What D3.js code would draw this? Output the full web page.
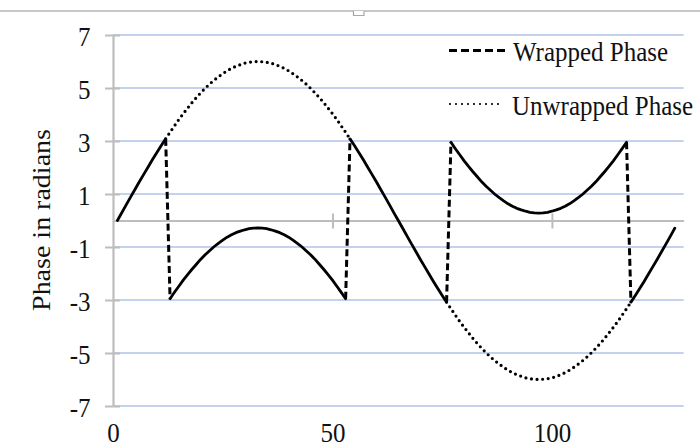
<!DOCTYPE html>
<html>
<head>
<meta charset="utf-8">
<script src="https://cdn.jsdelivr.net/npm/d3@7"></script>
<style>
  html, body { margin: 0; padding: 0; background: #fff; }
  svg { display: block; }
  text { font-family: "Liberation Serif", "Times New Roman", serif; fill: #111; }
</style>
</head>
<body>
<svg id="chart" width="700" height="448"></svg>
<script>
// Phase samples, one per index 1..128
const unwrappedPhase = [
  0.00, 0.29, 0.59, 0.88, 1.17, 1.46, 1.74, 2.02, 2.30, 2.57, 2.83, 3.08, 3.33, 3.57, 3.81, 4.03,
  4.24, 4.45, 4.64, 4.82, 4.99, 5.15, 5.29, 5.42, 5.54, 5.65, 5.74, 5.82, 5.88, 5.94, 5.97, 5.99,
  6.00, 5.99, 5.97, 5.94, 5.88, 5.82, 5.74, 5.65, 5.54, 5.42, 5.29, 5.15, 4.99, 4.82, 4.64, 4.45,
  4.24, 4.03, 3.81, 3.57, 3.33, 3.08, 2.83, 2.57, 2.30, 2.02, 1.74, 1.46, 1.17, 0.88, 0.59, 0.29,
  0.00, -0.29, -0.59, -0.88, -1.17, -1.46, -1.74, -2.02, -2.30, -2.57, -2.83, -3.08, -3.33, -3.57, -3.81, -4.03,
  -4.24, -4.45, -4.64, -4.82, -4.99, -5.15, -5.29, -5.42, -5.54, -5.65, -5.74, -5.82, -5.88, -5.94, -5.97, -5.99,
  -6.00, -5.99, -5.97, -5.94, -5.88, -5.82, -5.74, -5.65, -5.54, -5.42, -5.29, -5.15, -4.99, -4.82, -4.64, -4.45,
  -4.24, -4.03, -3.81, -3.57, -3.33, -3.08, -2.83, -2.57, -2.30, -2.02, -1.74, -1.46, -1.17, -0.88, -0.59, -0.29
];

const wrappedPhase = [
  0.00, 0.29, 0.59, 0.88, 1.17, 1.46, 1.74, 2.02, 2.30, 2.57, 2.83, 3.08, -2.95, -2.71, -2.48, -2.25,
  -2.04, -1.84, -1.65, -1.46, -1.29, -1.14, -0.99, -0.86, -0.74, -0.63, -0.54, -0.46, -0.40, -0.35, -0.31, -0.29,
  -0.28, -0.29, -0.31, -0.35, -0.40, -0.46, -0.54, -0.63, -0.74, -0.86, -0.99, -1.14, -1.29, -1.46, -1.65, -1.84,
  -2.04, -2.25, -2.48, -2.71, -2.95, 3.08, 2.83, 2.57, 2.30, 2.02, 1.74, 1.46, 1.17, 0.88, 0.59, 0.29,
  0.00, -0.29, -0.59, -0.88, -1.17, -1.46, -1.74, -2.02, -2.30, -2.57, -2.83, -3.08, 2.95, 2.71, 2.48, 2.25,
  2.04, 1.84, 1.65, 1.46, 1.29, 1.14, 0.99, 0.86, 0.74, 0.63, 0.54, 0.46, 0.40, 0.35, 0.31, 0.29,
  0.28, 0.29, 0.31, 0.35, 0.40, 0.46, 0.54, 0.63, 0.74, 0.86, 0.99, 1.14, 1.29, 1.46, 1.65, 1.84,
  2.04, 2.25, 2.48, 2.71, 2.95, -3.08, -2.83, -2.57, -2.30, -2.02, -1.74, -1.46, -1.17, -0.88, -0.59, -0.29
];

const yTicks = [-7, -5, -3, -1, 1, 3, 5, 7];
const xTickLabels = [0, 50, 100];
const xTickMarks = [50, 100];
const legendLabels = ["Wrapped Phase", "Unwrapped Phase"];
const yTitle = "Phase in radians";

// ---- layout ----
const svg = d3.select("#chart");
const stretch = 1.12;          // tall type
const fontSize = 25;
const gridColor = "#c3d2ee";
const axisColor = "#bdbdbd";

const x = d3.scaleLinear().domain([0, 130]).range([113, 683.6]);
const y = d3.scaleLinear().domain([-7, 7]).range([406, 35]);

// top frame rule
svg.append("line").attr("x1", 0).attr("x2", 700).attr("y1", 11).attr("y2", 11)
  .attr("stroke", "#b5b5b5").attr("stroke-width", 1.3);
svg.append("path").attr("d", "M353.5,11V15.5H364V11")
  .attr("fill", "#fff").attr("stroke", "#a8a8a8").attr("stroke-width", 1.2);

// horizontal gridlines
svg.append("g").selectAll("line").data(yTicks).join("line")
  .attr("x1", x(0)).attr("x2", x(130))
  .attr("y1", d => y(d)).attr("y2", d => y(d))
  .attr("stroke", gridColor).attr("stroke-width", 1.8);

// y axis
const yAxisG = svg.append("g").attr("transform", `translate(${x(0)},0)`)
  .call(d3.axisLeft(y).tickValues(yTicks).tickSize(8).tickSizeOuter(0).tickFormat(d3.format("d")));
yAxisG.select(".domain").attr("stroke", axisColor).attr("stroke-width", 2.2);
yAxisG.selectAll(".tick line").attr("x1", -8).attr("x2", 7)
  .attr("stroke", axisColor).attr("stroke-width", 2);
yAxisG.selectAll(".tick text")
  .attr("x", -22.5).attr("y", 9.5).attr("dy", null)
  .attr("transform", `scale(1,${stretch})`)
  .attr("font-size", fontSize).attr("font-family", null).attr("fill", "#111")
  .text(d => d < 0 ? "-" + Math.abs(d) : d);

// x axis through zero
const xAxisG = svg.append("g").attr("transform", `translate(0,${y(0)})`)
  .call(d3.axisBottom(x).tickValues(xTickMarks).tickSize(8).tickSizeOuter(0).tickFormat(""));
xAxisG.select(".domain").attr("stroke", axisColor).attr("stroke-width", 2.2);
xAxisG.selectAll(".tick line").attr("y1", -7).attr("y2", 8)
  .attr("stroke", axisColor).attr("stroke-width", 2);

// x tick labels along the bottom
const xLabG = svg.append("g").attr("transform", "translate(0,420)")
  .call(d3.axisBottom(x).tickValues(xTickLabels).tickSize(0).tickFormat(d3.format("d")));
xLabG.select(".domain").remove();
xLabG.selectAll(".tick text")
  .attr("y", 19.2).attr("dy", null)
  .attr("transform", `scale(1,${stretch})`)
  .attr("font-size", fontSize).attr("font-family", null).attr("fill", "#111");

// y axis title
svg.append("text")
  .attr("transform", `translate(50,220) scale(1,${stretch}) rotate(-90)`)
  .attr("text-anchor", "middle").attr("font-size", fontSize)
  .text(yTitle);

// ---- series ----
const pts = (arr) => arr.map((v, i) => ({ i: i + 1, v }));
const uPts = pts(unwrappedPhase);
const wPts = pts(wrappedPhase);

const line = d3.line().x(d => x(d.i)).y(d => y(d.v));

// unwrapped phase, shown where it departs from the wrapped trace
const differs = i => i >= 0 && i < wrappedPhase.length && wrappedPhase[i] !== unwrappedPhase[i];
svg.append("path")
  .attr("d", line.defined((d, i) => differs(i) || differs(i - 1) || differs(i + 1))(uPts))
  .attr("fill", "none").attr("stroke", "#000")
  .attr("stroke-width", 3.2).attr("stroke-linecap", "round")
  .attr("stroke-dasharray", "0 5.6");
line.defined(() => true);

// wrapped phase: continuous runs solid, jumps dashed
const runs = [];
const jumps = [];
let run = [wPts[0]];
for (let k = 1; k < wPts.length; k++) {
  if (Math.abs(wPts[k].v - wPts[k - 1].v) > 3) {
    runs.push(run);
    jumps.push([wPts[k - 1], wPts[k]]);
    run = [wPts[k]];
  } else {
    run.push(wPts[k]);
  }
}
runs.push(run);

svg.append("g").selectAll("path").data(runs).join("path")
  .attr("d", line)
  .attr("fill", "none").attr("stroke", "#000")
  .attr("stroke-width", 2.8).attr("stroke-linejoin", "round").attr("stroke-linecap", "round");

svg.append("g").selectAll("path").data(jumps).join("path")
  .attr("d", line)
  .attr("fill", "none").attr("stroke", "#000")
  .attr("stroke-width", 3).attr("stroke-dasharray", "7 3.6");

// ---- legend ----
const legend = svg.append("g");
legend.append("line").attr("x1", 449).attr("x2", 507).attr("y1", 50.5).attr("y2", 50.5)
  .attr("stroke", "#000").attr("stroke-width", 3.2).attr("stroke-dasharray", "8 4");
legend.append("text")
  .attr("transform", `translate(513,61) scale(1,${stretch})`)
  .attr("font-size", fontSize).text(legendLabels[0]);
legend.append("line").attr("x1", 450).attr("x2", 504).attr("y1", 104).attr("y2", 104)
  .attr("stroke", "#000").attr("stroke-width", 2.2).attr("stroke-linecap", "round")
  .attr("stroke-dasharray", "0 6");
legend.append("text")
  .attr("transform", `translate(512,115) scale(1,${stretch})`)
  .attr("font-size", fontSize).text(legendLabels[1]);
</script>
</body>
</html>
